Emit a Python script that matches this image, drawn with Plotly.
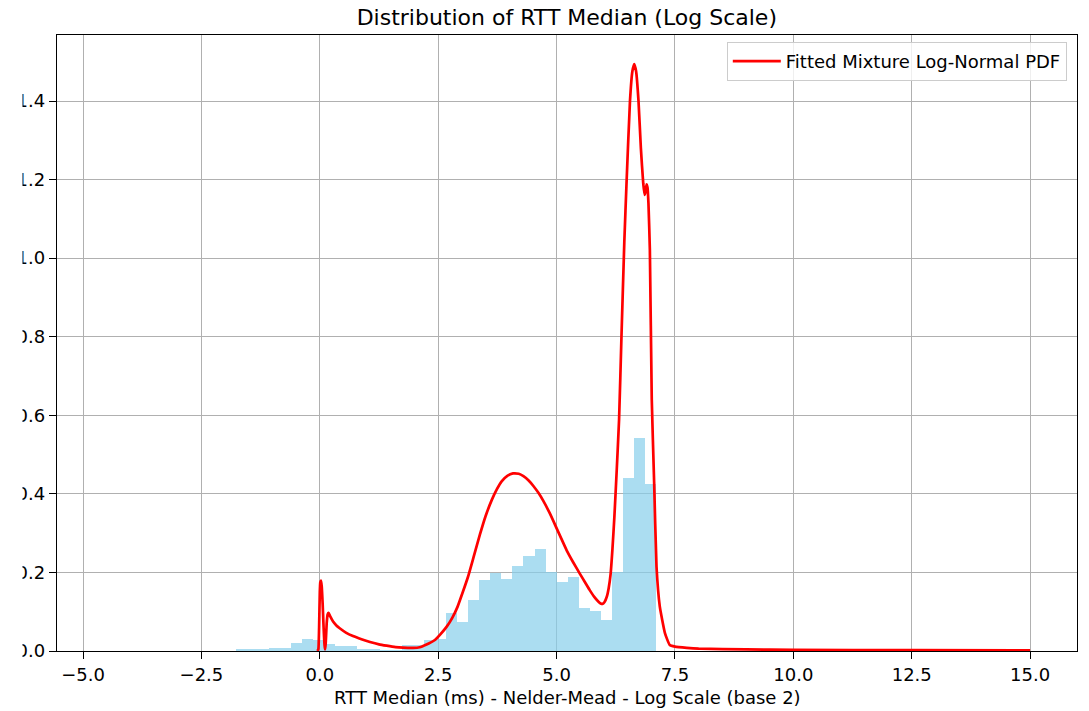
import numpy as np
import plotly.graph_objects as go

# Histogram of log2(RTT median), density-normalised
hist_start = -1.775
bin_width = 0.2337
hist_density = [
    0.004, 0.004, 0.004, 0.008, 0.008, 0.020, 0.031, 0.028, 0.018, 0.013,
    0.013, 0.006, 0.006, 0.003, 0.003, 0.016, 0.016, 0.027, 0.030, 0.096,
    0.075, 0.130, 0.181, 0.198, 0.183, 0.217, 0.242, 0.259, 0.200, 0.176,
    0.188, 0.109, 0.103, 0.079, 0.200, 0.441, 0.543, 0.424,
]

# Fitted mixture log-normal PDF evaluated on the log2 axis
pdf_x = [
    -0.05, -0.03, -0.015, 0.0, 0.01, 0.025, 0.04, 0.06, 0.08, 0.10,
    0.112, 0.125, 0.145, 0.165, 0.185, 0.22, 0.28, 0.35, 0.42, 0.55,
    0.70, 0.88, 1.06, 1.25, 1.41, 1.60, 1.76, 1.97, 2.11, 2.18,
    2.30, 2.43, 2.55, 2.68, 2.80, 2.91, 3.02, 3.13, 3.25, 3.38,
    3.50, 3.63, 3.74, 3.84, 3.96, 4.08, 4.20, 4.30, 4.41, 4.51,
    4.62, 4.72, 4.85, 4.98, 5.10, 5.21, 5.35, 5.49, 5.60, 5.70,
    5.80, 5.88, 5.93, 5.97, 6.01, 6.06, 6.10, 6.14, 6.18, 6.22,
    6.27, 6.32, 6.37, 6.43, 6.48, 6.55, 6.60, 6.64, 6.68, 6.73,
    6.78, 6.83, 6.86, 6.88, 6.90, 6.92, 6.94, 6.97, 7.01, 7.06,
    7.11, 7.18, 7.29, 7.39, 7.50, 7.75, 8.00, 9.00, 10.0, 12.5,
    15.0,
]
pdf_y = [
    0.0, 0.005, 0.06, 0.15, 0.175, 0.179, 0.165, 0.12, 0.06, 0.015,
    0.004, 0.02, 0.07, 0.093, 0.097, 0.088, 0.075, 0.065, 0.058, 0.047,
    0.038, 0.030, 0.023, 0.017, 0.0135, 0.010, 0.0085, 0.0078, 0.0095, 0.0127,
    0.019, 0.028, 0.043, 0.062, 0.085, 0.113, 0.150, 0.189, 0.240, 0.296,
    0.343, 0.384, 0.412, 0.432, 0.446, 0.452, 0.451, 0.445, 0.434, 0.420,
    0.402, 0.382, 0.352, 0.318, 0.286, 0.257, 0.226, 0.197, 0.175, 0.155,
    0.137, 0.126, 0.121, 0.120, 0.124, 0.138, 0.160, 0.195, 0.26, 0.34,
    0.46, 0.59, 0.80, 1.04, 1.20, 1.40, 1.475, 1.494, 1.475, 1.40,
    1.28, 1.19, 1.161, 1.17, 1.188, 1.18, 1.14, 1.02, 0.64, 0.43,
    0.215, 0.113, 0.045, 0.015, 0.011, 0.008, 0.006, 0.004, 0.003, 0.002,
    0.0015,
]

x_ticks = [-5.0, -2.5, 0.0, 2.5, 5.0, 7.5, 10.0, 12.5, 15.0]
y_ticks = [0.0, 0.2, 0.4, 0.6, 0.8, 1.0, 1.2, 1.4]

FONT = "DejaVu Sans"
TICK_FONT = dict(family=FONT, size=18, color="black")

# plot area in pixels
L, R, T, B = 57, 12, 35, 60
PW, PH = 1089 - L - R, 711 - T - B

centers = hist_start + bin_width * (np.arange(len(hist_density)) + 0.5)

fig = go.Figure()
fig.add_trace(go.Bar(
    x=centers,
    y=hist_density,
    width=bin_width,
    marker=dict(color="rgba(135,206,235,0.7)", line=dict(width=0)),
    showlegend=False,
    hoverinfo="skip",
))
fig.add_trace(go.Scatter(
    x=pdf_x,
    y=pdf_y,
    mode="lines",
    line=dict(color="red", width=2.7, shape="spline", smoothing=0.4),
    name="Fitted Mixture Log-Normal PDF",
))

axis_common = dict(
    automargin=False,
    showgrid=True,
    gridcolor="#b0b0b0",
    gridwidth=1.4,
    zeroline=False,
    showline=True,
    linecolor="black",
    linewidth=1.4,
    mirror=True,
    ticks="outside",
    ticklen=7,
    tickwidth=1.4,
    tickcolor="black",
    tickfont=TICK_FONT,
)

fig.update_layout(
    width=1089,
    height=711,
    margin=dict(l=L, r=R, t=T, b=B),
    paper_bgcolor="white",
    plot_bgcolor="white",
    bargap=0,
    font=dict(family=FONT, size=18, color="black"),
    title=dict(
        text="Distribution of RTT Median (Log Scale)",
        font=dict(family=FONT, size=22, color="black"),
        x=0.5205,
        xanchor="center",
        y=1 - 17 / 711,
        yanchor="middle",
    ),
    xaxis=dict(
        range=[-5.55, 15.99],
        tickvals=x_ticks,
        ticktext=[f"{v:.1f}".replace("-", "\u2212") for v in x_ticks],
        **axis_common,
    ),
    yaxis=dict(
        range=[0, 1.568],
        tickvals=y_ticks,
        ticktext=[f"{v:.1f}" for v in y_ticks],
        ticklabelstandoff=0,
        **axis_common,
    ),
    legend=dict(
        x=0.990,
        xanchor="right",
        y=1 - 7 / PH,
        yanchor="top",
        itemwidth=48,
        bgcolor="rgba(255,255,255,0.8)",
        bordercolor="#cccccc",
        borderwidth=1,
        font=dict(family=FONT, size=18, color="black"),
    ),
    annotations=[dict(
        text="RTT Median (ms) - Nelder-Mead - Log Scale (base 2)",
        xref="paper", yref="paper",
        x=0.5, y=-(697 - (T + PH)) / PH,
        xanchor="center", yanchor="middle",
        showarrow=False,
        font=dict(family=FONT, size=18, color="black"),
    )],
    # the saved figure is cropped a little at its left edge
    shapes=[dict(
        type="rect", xref="paper", yref="paper", layer="above",
        x0=-L / PW, x1=-(L - 22.5) / PW, y0=-0.02, y1=1.02,
        fillcolor="white", line=dict(width=0),
    )],
)

fig.write_html("out.html")
